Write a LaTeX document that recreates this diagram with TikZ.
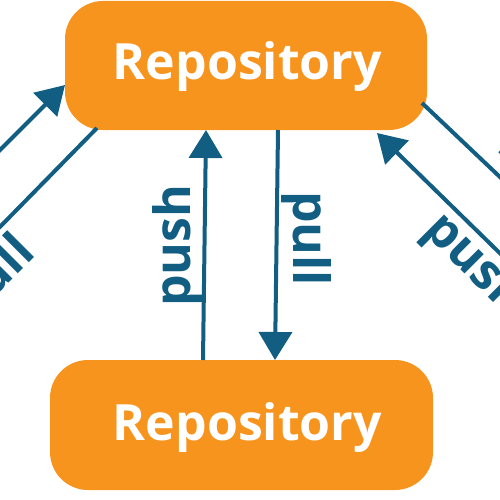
\documentclass[tikz,border=0pt]{standalone}
\usepackage{fontspec}
\setmainfont{Open Sans}
\usetikzlibrary{arrows.meta}
\definecolor{repoorange}{RGB}{247,148,30}
\definecolor{flowblue}{RGB}{17,94,130}

\begin{document}
\begin{tikzpicture}[x=1pt,y=-1pt,
  repo/.style={fill=repoorange, draw=none, rounded corners=38pt, inner sep=0pt},
  repolabel/.style={text=white, font=\fontsize{50}{60}\selectfont\bfseries, inner sep=0pt, anchor=base},
  flow/.style={draw=flowblue, line width=4pt, -{Triangle[length=28pt,width=33pt]}},
  flowlabel/.style={text=flowblue, font=\fontsize{50}{60}\selectfont\bfseries, inner sep=0pt},
]
\useasboundingbox (0,0) rectangle (500,500);
\clip (0,0) rectangle (500,500);

% repository boxes
\node[repo, minimum width=362pt, minimum height=129pt] (top) at (246,65.5) {};
\node[repo, minimum width=383pt, minimum height=130pt] (bot) at (241.5,425) {};
\node[repolabel] (toplabel) at (247.5,80) {Repository};
\node[repolabel] (botlabel) at (247.5,440) {Repository};

% end points of the connectors
\coordinate (pushS) at (203,360);
\coordinate (pushE) at (206,130);
\coordinate (pullS) at (278,130);
\coordinate (pullE) at (275,360);
\coordinate (lpushS) at (-30,180);
\coordinate (lpushE) at (65,85);
\coordinate (lpullS) at (97,128);
\coordinate (lpullE) at (-60,288);
\coordinate (rpullS) at (422,103);
\coordinate (rpullE) at (560,234);
\coordinate (rpushS) at (560,312);
\coordinate (rpushE) at (377,133);

% connectors
\draw[flow] (pushS) -- (pushE);
\draw[flow] (pullS) -- (pullE);
\draw[flow] (lpushS) -- (lpushE);
\draw[flow] (lpullS) -- (lpullE);
\draw[flow] (rpullS) -- (rpullE);
\draw[flow] (rpushS) -- (rpushE);

% connector labels
\node[flowlabel, anchor=base west, rotate=90] (pushlabel) at (190,307) {push};
\node[flowlabel, anchor=base west, rotate=-90] (pulllabel) at (293,191) {pull};
\node[flowlabel, anchor=base east, rotate=45] (lpulllabel) at (37,255) {pull};
\node[flowlabel, anchor=base west, rotate=-45] (rpushlabel) at (422,231) {push};
\node[flowlabel, anchor=base west, rotate=-45] (rpulllabel) at (504,141) {pull};
\end{tikzpicture}
\end{document}
